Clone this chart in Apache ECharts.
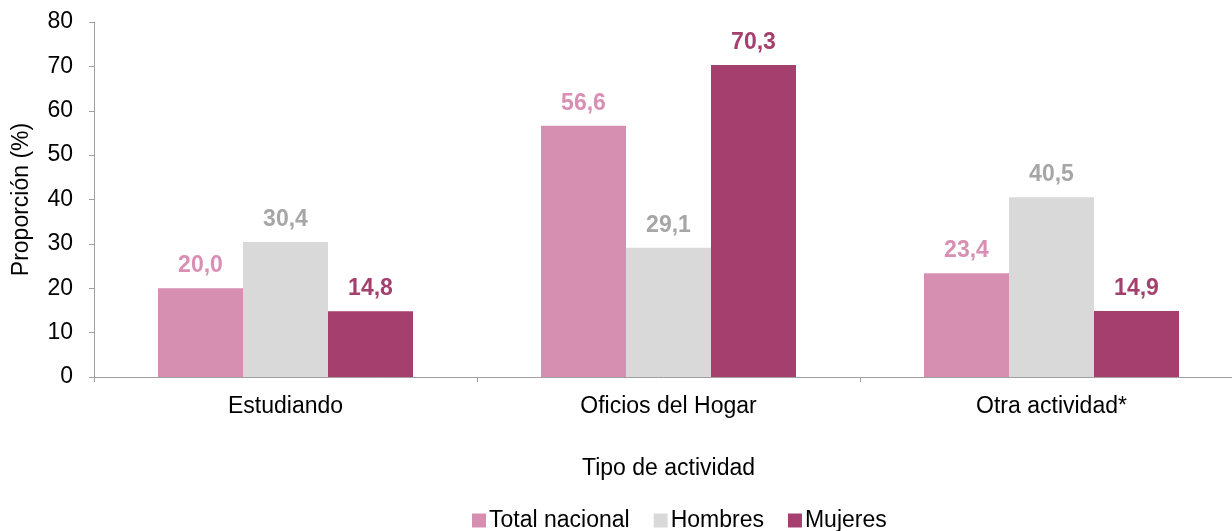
<!DOCTYPE html>
<html>
<head>
<meta charset="utf-8">
<script src="https://cdn.jsdelivr.net/npm/echarts@6/dist/echarts.min.js"></script>
<style>
  html, body { margin: 0; padding: 0; background: #fff; }
  #chart { width: 1232px; height: 531px; }
</style>
</head>
<body>
<div id="chart"></div>
<script>
// Data
const categories = ['Estudiando', 'Oficios del Hogar', 'Otra actividad*'];
const totalNacional = [20.0, 56.6, 23.4];
const hombres = [30.4, 29.1, 40.5];
const mujeres = [14.8, 70.3, 14.9];
const yTicks = [0, 10, 20, 30, 40, 50, 60, 70, 80];

const font = '"Liberation Sans", Arial, sans-serif';

const makeSeries = (name, data, barColor, labelColor) => ({
    name: name,
    type: 'bar',
    data: data,
    barWidth: 85,
    barGap: '0%',
    itemStyle: { color: barColor },
    label: {
        show: true,
        position: 'top',
        distance: 11,
        color: labelColor,
        fontFamily: font,
        fontWeight: 'bold',
        fontSize: 23,
        formatter: p => p.value.toFixed(1).replace('.', ',')
    }
});

const chart = echarts.init(document.getElementById('chart'));

const option = {
    animation: false,
    textStyle: { fontFamily: font },
    grid: { left: 94, top: 22, width: 1149, height: 355, outerBoundsMode: 'none' },
    legend: {
        top: 504,
        left: 467,
        itemWidth: 14,
        itemHeight: 14,
        itemGap: 24,
        icon: 'rect',
        textStyle: { fontSize: 23, color: '#000', fontFamily: font, padding: [0, 0, 0, -2] },
        data: ['Total nacional', 'Hombres', 'Mujeres']
    },
    xAxis: {
        type: 'category',
        data: categories,
        name: 'Tipo de actividad',
        nameLocation: 'middle',
        nameGap: 80,
        nameTextStyle: { fontSize: 23, color: '#000', fontFamily: font },
        axisLine: { lineStyle: { color: '#a0a0a0', width: 1 } },
        axisTick: { show: true, alignWithLabel: false, length: 5, lineStyle: { color: '#a0a0a0' } },
        axisLabel: { fontSize: 23, color: '#000', margin: 18, fontFamily: font }
    },
    yAxis: {
        type: 'value',
        min: yTicks[0],
        max: yTicks[yTicks.length - 1],
        interval: 10,
        name: 'Proporción (%)',
        nameLocation: 'middle',
        nameGap: 61,
        nameTextStyle: { fontSize: 23, color: '#000', fontFamily: font },
        axisLine: { show: true, lineStyle: { color: '#a0a0a0', width: 1 } },
        axisTick: { show: true, length: 5, lineStyle: { color: '#a0a0a0' } },
        splitLine: { show: false },
        axisLabel: { fontSize: 23, color: '#000', margin: 21, fontFamily: font }
    },
    series: [
        makeSeries('Total nacional', totalNacional, '#d68fb1', '#d98fb3'),
        makeSeries('Hombres', hombres, '#d9d9d9', '#a6a6a6'),
        makeSeries('Mujeres', mujeres, '#a5406e', '#a5406e')
    ]
};

chart.setOption(option);
</script>
</body>
</html>
